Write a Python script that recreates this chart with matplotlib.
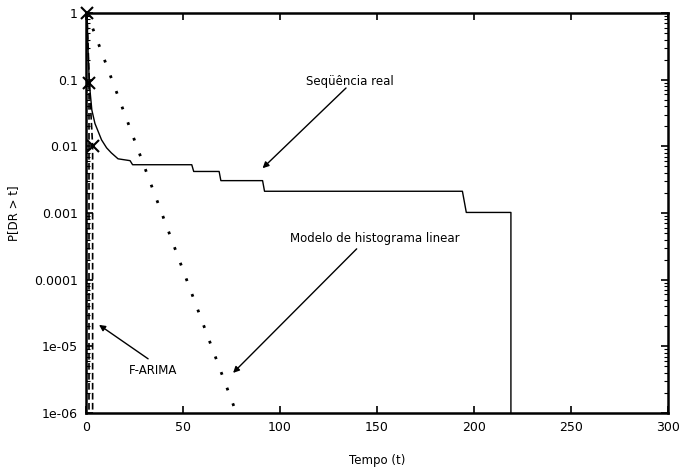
import numpy as np
import matplotlib
matplotlib.use("Agg")
from matplotlib import pyplot as plt
from matplotlib.ticker import FixedLocator, FixedFormatter, LogLocator, NullFormatter

real_t = [0.5, 1.0, 1.7, 2.5, 3.0, 4.6, 8.0, 10.6, 13.0, 16.5, 22.7, 24.0,
          54.5, 55.5, 68.6, 69.5, 91.0, 92.0, 194.0, 196.0, 219.0, 219.0]
real_p = [1.0, 0.3, 0.088, 0.05, 0.035, 0.022, 0.0125, 0.0095, 0.008, 0.0065, 0.0061, 0.0053,
          0.0053, 0.0042, 0.0042, 0.00306, 0.00306, 0.00212, 0.00212, 0.00102, 0.00102, 1e-8]

# F-ARIMA points (x markers)
arima_t = [0.5, 1.7, 3.4]
arima_p = [1.0, 0.088, 0.0102]

# Modelo de histograma linear (straight line on log scale)
hist_t = [0.5, 77.5]
hist_p = [1.0, 1e-6]

fig = plt.figure(figsize=(6.79, 4.73), dpi=100)
ax = fig.add_axes([0.1267, 0.1268, 0.8572, 0.8457])

ax.plot(real_t, real_p, color='black', lw=1.0)
ax.plot(hist_t, hist_p, color='black', lw=2.0, linestyle=(0, (1, 5)))
ax.plot(arima_t + [3.4], arima_p + [1e-8], color='black', lw=1.2, linestyle=(0, (4, 2)))
ax.plot([1.7, 1.7], [0.088, 1e-8], color='black', lw=1.2, linestyle=(0, (4, 2)))
ax.plot(arima_t, arima_p, linestyle='none', marker='x', color='black', ms=9, mew=1.5,
        clip_on=False)

ax.set_yscale('log')
ax.set_xlim(0, 300)
ax.set_ylim(1e-6, 1)

yt = [1, 0.1, 0.01, 0.001, 0.0001, 1e-5, 1e-6]
ax.yaxis.set_major_locator(FixedLocator(yt))
ax.yaxis.set_major_formatter(FixedFormatter(['1', '0.1', '0.01', '0.001', '0.0001', '1e-05', '1e-06']))
ax.yaxis.set_minor_locator(LogLocator(base=10, subs=np.arange(2, 10)))
ax.yaxis.set_minor_formatter(NullFormatter())
ax.set_xticks([0, 50, 100, 150, 200, 250, 300])

ax.tick_params(which='both', direction='in', top=True, right=True, labelsize=9, pad=6)
ax.tick_params(which='major', length=5, width=1.2)
ax.tick_params(which='minor', length=3, width=0.8)
for s in ax.spines.values():
    s.set_linewidth(1.8)

ax.set_xlabel('Tempo (t)', fontsize=8.5, labelpad=14)
ax.set_ylabel('P[DR > t]', fontsize=8.5, labelpad=10)

# annotations: text and arrows
arrow = dict(arrowstyle='-|>', color='black', lw=1.0, mutation_scale=9,
             shrinkA=0, shrinkB=0)
ax.text(136, 0.093, 'Seqüência real', fontsize=8.5, ha='center', va='center')
ax.annotate('', xy=(91, 0.0047), xytext=(134, 0.075), arrowprops=arrow)

ax.text(149, 4.2e-4, 'Modelo de histograma linear', fontsize=8.5, ha='center', va='center')
ax.annotate('', xy=(75.8, 4e-6), xytext=(139.5, 2.9e-4), arrowprops=arrow)

ax.text(34.5, 4.4e-6, 'F-ARIMA', fontsize=8.5, ha='center', va='center')
ax.annotate('', xy=(6.7, 2.1e-5), xytext=(32, 6.5e-6), arrowprops=arrow)

plt.savefig('out.png', dpi=100)
